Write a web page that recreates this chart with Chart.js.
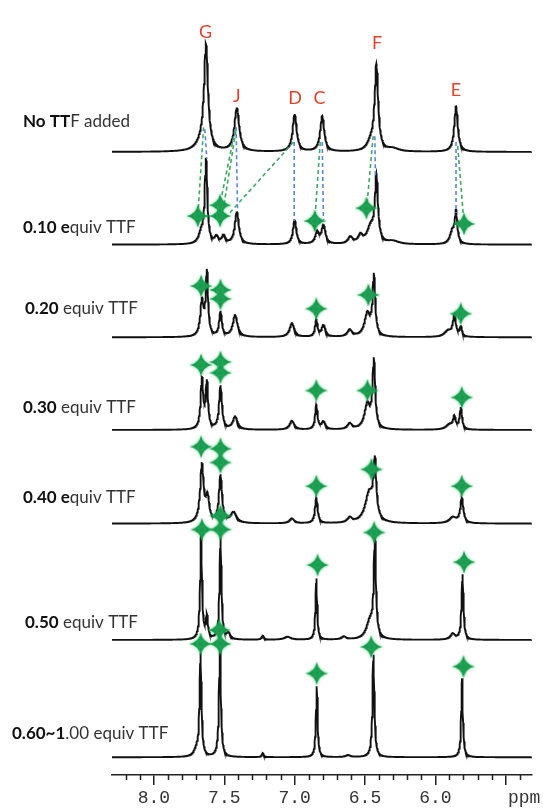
<!DOCTYPE html>
<html>
<head>
<meta charset="utf-8">
<script src="https://cdn.jsdelivr.net/npm/chart.js@4.4.1/dist/chart.umd.min.js"></script>
<style>
  html, body { margin: 0; padding: 0; background: #fff; }
  canvas { display: block; }
</style>
</head>
<body>
<canvas id="nmr" width="543" height="809"></canvas>
<script>
// ppm axis
const ppmTicks = [8.0, 7.5, 7.0, 6.5, 6.0, 5.5];
const ppmMinor = [8.2, 8.1, 7.9, 7.8, 7.7, 7.6, 7.4, 7.3, 7.2, 7.1, 6.9, 6.8, 6.7, 6.6, 6.4, 6.3, 6.2, 6.1, 5.9, 5.8, 5.7, 5.6, 5.4];

// spectra: [ppm, height, half width in ppm]
const peaksNoTTF = [[7.630, 104, 0.017], [7.660, 7, 0.05], [7.411, 44, 0.02], [7.000, 38, 0.017], [6.804, 36, 0.017], [6.460, 8, 0.03], [6.419, 86, 0.015], [6.300, 3, 0.05], [5.853, 46, 0.015]];
const peaks010 = [[7.665, 10, 0.02], [7.630, 85, 0.011], [7.555, 7, 0.015], [7.505, 8, 0.015], [7.411, 33, 0.017], [7.000, 25, 0.014], [6.840, 12, 0.016], [6.795, 19, 0.016], [6.604, 7, 0.02], [6.532, 8, 0.02], [6.460, 16, 0.03], [6.419, 66, 0.013], [6.300, 3, 0.05], [5.880, 12, 0.02], [5.853, 31, 0.011]];
const peaks020 = [[7.659, 35, 0.014], [7.624, 64, 0.01], [7.527, 25, 0.011], [7.423, 22, 0.02], [7.019, 14, 0.02], [6.846, 17, 0.01], [6.795, 12, 0.016], [6.608, 7, 0.02], [6.483, 23, 0.025], [6.437, 60, 0.011], [5.911, 6, 0.03], [5.865, 21, 0.013], [5.819, 10, 0.009]];
const peaks030 = [[7.659, 50, 0.011], [7.624, 46, 0.01], [7.527, 44, 0.012], [7.423, 13, 0.02], [7.019, 9, 0.02], [6.846, 25, 0.01], [6.795, 8, 0.016], [6.608, 6, 0.02], [6.483, 25, 0.025], [6.437, 68, 0.011], [5.900, 5, 0.03], [5.865, 12, 0.011], [5.819, 22, 0.01]];
const peaks040 = [[7.659, 58, 0.015], [7.619, 24, 0.014], [7.527, 48, 0.013], [7.434, 11, 0.025], [7.019, 5, 0.02], [6.846, 26, 0.011], [6.608, 5, 0.02], [6.470, 30, 0.035], [6.430, 56, 0.012], [5.876, 6, 0.03], [5.812, 25, 0.013]];
const peaks050 = [[7.665, 104, 0.008], [7.624, 22, 0.009], [7.527, 104, 0.008], [7.470, 6, 0.015], [7.226, 4, 0.01], [7.050, 3, 0.03], [6.846, 62, 0.007], [6.650, 3, 0.02], [6.465, 18, 0.03], [6.430, 98, 0.009], [5.876, 6, 0.02], [5.807, 66, 0.008]];
const peaks060 = [[7.700, 6, 0.02], [7.669, 104, 0.008], [7.531, 111, 0.008], [7.226, 4, 0.008], [6.843, 72, 0.007], [6.620, 2, 0.02], [6.440, 104, 0.008], [5.810, 80, 0.007]];
const allPeaks = [peaksNoTTF, peaks010, peaks020, peaks030, peaks040, peaks050, peaks060];

// green star marks: [ppm, height above the spectrum's baseline]
const stars010 = [[7.688, 29], [7.530, 40], [7.530, 29], [6.857, 24], [6.490, 37], [5.796, 21]];
const stars020 = [[7.665, 52], [7.527, 48], [7.527, 39], [6.846, 29], [6.476, 43], [5.819, 24]];
const stars030 = [[7.665, 66], [7.527, 69], [7.527, 58], [6.846, 40], [6.483, 40], [5.812, 33]];
const stars040 = [[7.665, 78], [7.527, 76], [7.527, 62], [6.846, 38], [6.454, 55], [5.812, 38]];
const stars050 = [[7.659, 112], [7.527, 112], [7.527, 126], [6.837, 76], [6.435, 109], [5.796, 79]];
const stars060 = [[7.668, 115], [7.529, 115], [7.536, 129], [6.843, 85], [6.456, 112], [5.800, 92]];
const allStars = [[], stars010, stars020, stars030, stars040, stars050, stars060];

// peak letters: [label, ppm, level]
const peakLetters = [['G', 7.633, 754], ['J', 7.411, 689], ['D', 6.996, 687], ['C', 6.823, 687], ['F', 6.414, 742], ['E', 5.853, 695]];

// shift guides between first two spectra: [ppm from, level from, ppm to, level to]
const blueGuides = [[7.638, 655, 7.624, 625], [7.416, 657, 7.406, 575], [7.003, 642, 7.003, 562], [6.804, 642, 6.795, 563], [6.430, 648, 6.426, 608], [5.853, 642, 5.853, 570]];
const greenGuides = [[7.647, 657, 7.688, 567], [7.423, 655, 7.531, 578], [7.418, 653, 7.515, 567], [7.008, 642, 7.469, 569], [6.818, 642, 6.857, 562], [6.442, 648, 6.488, 575], [5.841, 638, 5.796, 559]];

const sampleLabels = [
  [['No TT', true], ['F added', false]],
  [['0.10 e', true], ['quiv TTF', false]],
  [['0.20', true], [' equiv TTF', false]],
  [['0.30', true], [' equiv TTF', false]],
  [['0.40 e', true], ['quiv TTF', false]],
  [['0.50', true], [' equiv TTF', false]],
  [['0.60~1', true], ['.00 equiv TTF', false]]
];

// layout
const stackOffset = [632, 538, 444, 350, 255, 137, 18];
const labelPos = [[23, 122], [23, 228], [25, 309], [23, 408], [23, 498], [25, 623], [12, 734]];
const X_MIN = 5.313, X_MAX = 8.298;

function spectrumPoints(peaks, offset) {
  const xs = [];
  for (let v = X_MAX; v >= X_MIN; v -= 0.002) xs.push(v);
  peaks.forEach(p => xs.push(p[0]));
  xs.sort((a, b) => b - a);
  return xs.map(x => {
    let y = 0;
    peaks.forEach(([c, h, w]) => { const d = (x - c) / w; y += h / (1 + d * d); });
    return { x: x, y: offset + y };
  });
}

// four-point sparkle used as the marker
function makeStar() {
  const c = document.createElement('canvas');
  c.width = 30; c.height = 30;
  const g = c.getContext('2d');
  const cx = 15, cy = 15, r = 11.5, k = 1.7;
  g.shadowColor = 'rgba(60,200,110,0.9)';
  g.shadowBlur = 3;
  g.fillStyle = '#1a9b4f';
  g.beginPath();
  g.moveTo(cx, cy - r);
  g.quadraticCurveTo(cx + k, cy - k, cx + r, cy);
  g.quadraticCurveTo(cx + k, cy + k, cx, cy + r);
  g.quadraticCurveTo(cx - k, cy + k, cx - r, cy);
  g.quadraticCurveTo(cx - k, cy - k, cx, cy - r);
  g.fill();
  g.beginPath();
  g.arc(cx, cy, 2.6, 0, Math.PI * 2);
  g.fill();
  return c;
}
const starImg = makeStar();

const datasets = [];
allPeaks.forEach((peaks, i) => {
  datasets.push({
    data: spectrumPoints(peaks, stackOffset[i]),
    borderColor: '#111', borderWidth: 1.9, pointRadius: 0, tension: 0, order: 2
  });
});
blueGuides.forEach(g => datasets.push({
  data: [{ x: g[0], y: g[1] }, { x: g[2], y: g[3] }],
  borderColor: '#5b86d8', borderWidth: 1.6, borderDash: [4, 3], pointRadius: 0, order: 1
}));
greenGuides.forEach(g => datasets.push({
  data: [{ x: g[0], y: g[1] }, { x: g[2], y: g[3] }],
  borderColor: '#3fa865', borderWidth: 1.6, borderDash: [4, 3], pointRadius: 0, order: 1
}));
allStars.forEach((st, i) => {
  if (!st.length) return;
  datasets.push({
    data: st.map(s => ({ x: s[0], y: stackOffset[i] + s[1] })),
    showLine: false, pointStyle: starImg, pointRadius: 10, order: 0
  });
});

const textPlugin = {
  id: 'nmrText',
  afterDraw(chart) {
    const ctx = chart.ctx;
    const xs = chart.scales.x, ys = chart.scales.y;
    ctx.save();
    // minor ticks
    ctx.strokeStyle = '#222';
    ctx.lineWidth = 1.5;
    const base = chart.chartArea.bottom;
    ppmMinor.forEach(v => {
      const px = Math.round(xs.getPixelForValue(v)) + 0.5;
      ctx.beginPath(); ctx.moveTo(px, base); ctx.lineTo(px, base + 5); ctx.stroke();
    });
    ctx.font = '18px "Liberation Mono"';
    ctx.fillStyle = '#333';
    ctx.textBaseline = 'middle';
    ctx.textAlign = 'left';
    ctx.fillText('ppm', 508, 798);
    // sample labels
    sampleLabels.forEach((parts, i) => {
      let x = labelPos[i][0];
      const y = labelPos[i][1];
      parts.forEach(([txt, bold]) => {
        ctx.font = (bold ? 'bold ' : '') + '17px Lato';
        ctx.fillStyle = bold ? '#111' : '#333';
        ctx.fillText(txt, x, y);
        x += ctx.measureText(txt).width;
      });
    });
    // peak letters
    ctx.font = '18px Lato';
    ctx.fillStyle = '#e0432c';
    ctx.textAlign = 'center';
    peakLetters.forEach(([t, p, lv]) => {
      ctx.fillText(t, xs.getPixelForValue(p), ys.getPixelForValue(lv));
    });
    ctx.restore();
  }
};

new Chart(document.getElementById('nmr').getContext('2d'), {
  type: 'line',
  data: { datasets: datasets },
  options: {
    responsive: false,
    animation: false,
    devicePixelRatio: 1,
    layout: { padding: { left: 112, right: 0, top: 0, bottom: 0 } },
    plugins: { legend: { display: false }, tooltip: { enabled: false } },
    scales: {
      x: {
        type: 'linear', reverse: true, min: X_MIN, max: X_MAX,
        afterBuildTicks: s => { s.ticks = ppmTicks.map(v => ({ value: v })); },
        afterFit: s => { s.height = 34; },
        border: { display: true, color: '#222', width: 1.5 },
        grid: { display: true, drawOnChartArea: false, drawTicks: true, tickLength: 10, color: '#222', lineWidth: 1.5 },
        ticks: {
          font: { family: 'Liberation Mono', size: 18 }, color: '#333', padding: 2, maxRotation: 0,
          callback: v => (v === 5.5 ? '' : v.toFixed(1))
        }
      },
      y: { display: false, min: 0, max: 775 }
    }
  },
  plugins: [textPlugin]
});
</script>
</body>
</html>
